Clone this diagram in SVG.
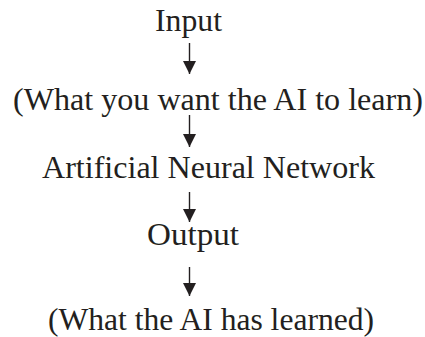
<svg xmlns="http://www.w3.org/2000/svg" width="425" height="337" viewBox="0 0 425 337">
<defs>
<style>
.t{font-family:"Liberation Serif","DejaVu Serif",serif;font-size:30.5px;fill:#231f20;text-anchor:middle}
.c{stroke:#231f20;stroke-width:1.4;fill:none}
</style>
<marker id="ah" markerUnits="userSpaceOnUse" markerWidth="13" markerHeight="13" refX="13" refY="6.5" orient="auto">
<path d="M0,0 L13,6.5 L0,13 Z" fill="#231f20"/>
</marker>
</defs>
<rect width="425" height="337" fill="#ffffff"/>
<g id="input"><text class="t" x="188.5" y="31" textLength="67" lengthAdjust="spacingAndGlyphs">Input</text></g>
<g id="input-desc"><text class="t" x="218" y="110" textLength="410" lengthAdjust="spacingAndGlyphs">(What you want the AI to learn)</text></g>
<g id="ann"><text class="t" x="208.5" y="178" textLength="333" lengthAdjust="spacingAndGlyphs">Artificial Neural Network</text></g>
<g id="output"><text class="t" x="193" y="245" textLength="92" lengthAdjust="spacingAndGlyphs">Output</text></g>
<g id="output-desc"><text class="t" x="211" y="330" textLength="326" lengthAdjust="spacingAndGlyphs">(What the AI has learned)</text></g>
<g id="connectors">
<line class="c" x1="189.5" y1="43" x2="189.5" y2="74" marker-end="url(#ah)"/>
<line class="c" x1="189.5" y1="115" x2="189.5" y2="147" marker-end="url(#ah)"/>
<line class="c" x1="189.5" y1="192" x2="189.5" y2="222" marker-end="url(#ah)"/>
<line class="c" x1="189.5" y1="267" x2="189.5" y2="296" marker-end="url(#ah)"/>
</g>
</svg>
